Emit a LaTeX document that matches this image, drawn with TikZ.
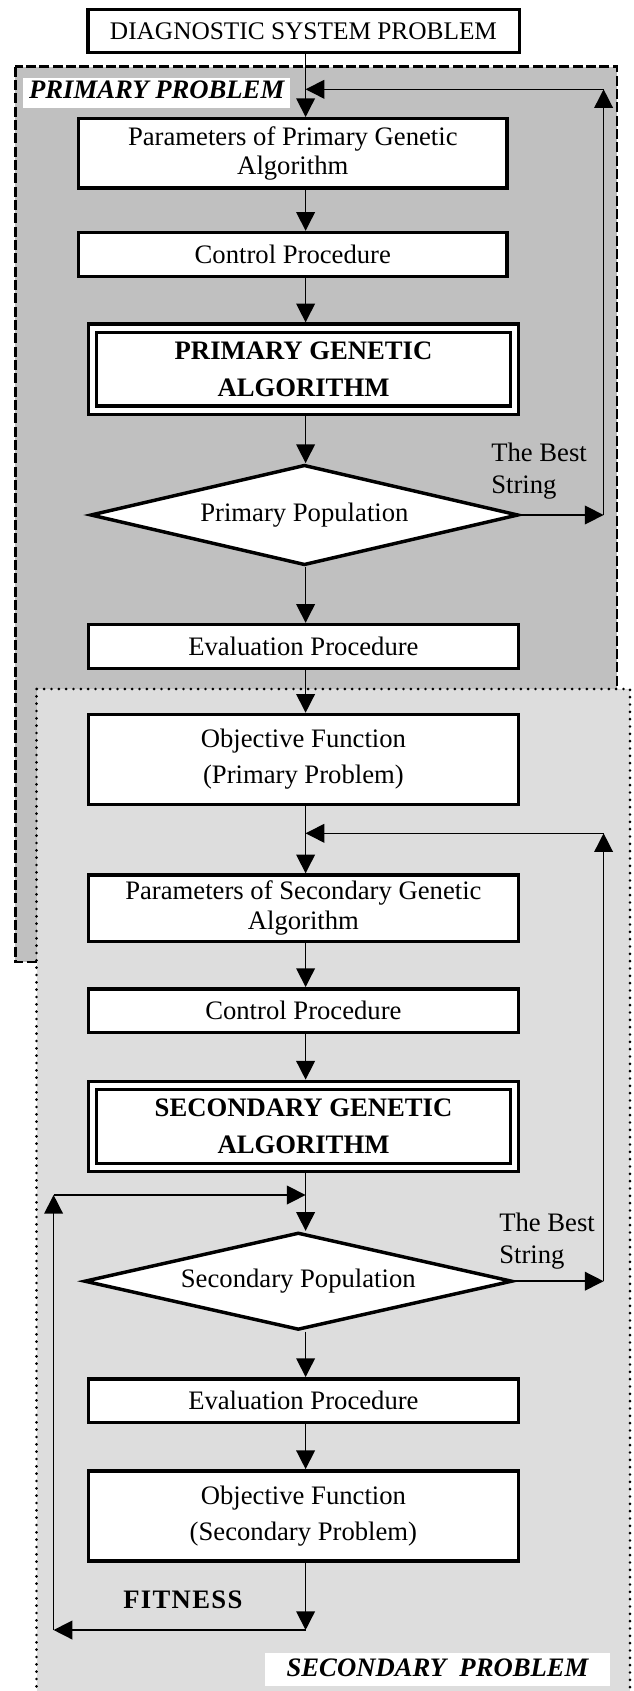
\documentclass[tikz,border=0pt]{standalone}
\usepackage{fontspec}
\setmainfont{Liberation Serif}
\newfontfamily\fitfont[LetterSpace=5]{Liberation Serif}
\usetikzlibrary{shapes.geometric,arrows.meta}
\definecolor{darkzone}{RGB}{192,192,192}
\definecolor{lightzone}{RGB}{221,221,221}

\tikzset{
 procbox/.style={draw, line width=2.6pt, fill=white, inner sep=0pt, align=center, font=\fontsize{20}{#1}\selectfont},
 procbox/.default=24,
 gabox/.style={draw, double=white, double distance=3.6pt, line width=2.6pt, fill=white, inner sep=0pt, outer sep=4.4pt, align=center, minimum width=316.5pt, minimum height=61.5pt, font=\fontsize{20}{27.5}\selectfont\bfseries},
 popshape/.style={diamond, aspect=4, draw, line width=2.6pt, fill=white, inner sep=0pt, minimum width=321pt, font=\fontsize{20}{24}\selectfont},
 arr/.style={line width=1.1pt, -{Triangle[length=14pt,width=14pt]}},
 zonelabel/.style={fill=white, inner sep=0pt, anchor=base, font=\fontsize{20}{24}\selectfont\bfseries\itshape},
 bestnote/.style={inner sep=0pt, align=left, anchor=north west, font=\fontsize{20}{24}\selectfont},
 primaryzone/.style={draw, fill=darkzone, line width=2pt, dash pattern=on 7.5pt off 2.5pt},
 secondaryzone/.style={draw, fill=lightzone, line width=2.2pt, line cap=round, dash pattern=on 0pt off 5.5pt}
}

\begin{document}
\begin{tikzpicture}[x=0.75pt,y=0.75pt,yscale=-1,xscale=1]
\useasboundingbox (0,0) rectangle (634,1691);
\clip (0,0) rectangle (634,1691);

% zones
\draw [primaryzone] (15.3,66.7) rectangle (617,962);
\draw [secondaryzone] (36.5,689) rectangle (630,1720);
\draw (156.7,98.3) node [zonelabel, minimum width=200pt, text height=15pt, text depth=7.5pt] (zoneA) {PRIMARY PROBLEM};
\draw (437.5,1676.7) node [zonelabel, minimum width=258.75pt, text height=17.8pt, text depth=7pt] (zoneB) {SECONDARY\ \ PROBLEM};

% boxes
\draw (303.5,31) node [procbox, minimum width=323.6pt, minimum height=31.9pt, font=\fontsize{19}{24}\selectfont] (diag) {DIAGNOSTIC SYSTEM PROBLEM};
\draw (292.8,153.5) node [procbox=21.5, minimum width=321.4pt, minimum height=52.1pt] (par1) {Parameters of Primary Genetic\\Algorithm};
\draw (292.8,254.4) node [procbox, minimum width=321.4pt, minimum height=32.8pt] (ctrl1) {Control Procedure};
\draw (303.5,369.2) node [gabox] (ga1) {PRIMARY GENETIC\\ALGORITHM};
\draw (304.4,515) node [popshape, minimum height=75.3pt] (pop1) {Primary Population};
\draw (303.4,646.4) node [procbox, minimum width=322.3pt, minimum height=32.8pt] (eval1) {Evaluation Procedure};
\draw (303.4,759.4) node [procbox=27, minimum width=322.3pt, minimum height=67.4pt] (obj1) {Objective Function\\(Primary Problem)};
\draw (303.4,908.3) node [procbox=22.5, minimum width=322.3pt, minimum height=49.9pt] (par2) {Parameters of Secondary Genetic\\Algorithm};
\draw (303.4,1010.5) node [procbox, minimum width=322.3pt, minimum height=32.6pt] (ctrl2) {Control Procedure};
\draw (303.5,1126.5) node [gabox] (ga2) {SECONDARY GENETIC\\ALGORITHM};
\draw (298.3,1281.2) node [popshape, minimum height=73pt] (pop2) {Secondary Population};
\draw (303.4,1400.5) node [procbox, minimum width=322.3pt, minimum height=32.6pt] (eval2) {Evaluation Procedure};
\draw (303.4,1515.9) node [procbox=27, minimum width=322.3pt, minimum height=67.6pt] (obj2) {Objective Function\\(Secondary Problem)};

% labels
\draw (491,442.5) node [bestnote] (bestlblA) {The Best\\String};
\draw (499,1212.5) node [bestnote] (bestlblB) {The Best\\String};
\draw (123,1608) node [anchor=base west, inner sep=0pt, font=\fitfont\fontsize{20}{24}\selectfont\bfseries] (fitlbl) {FITNESS};

% points of the loops
\coordinate (stem) at (305.6,0);
\coordinate (bestA) at (603.6,515);
\coordinate (bestAtop) at (603.6,89.3);
\coordinate (bestB) at (603.6,1281.2);
\coordinate (bestBtop) at (603.6,833.3);
\coordinate (fitR) at (305.6,1630);
\coordinate (fitL) at (53.6,1630);
\coordinate (fitT) at (53.6,1195);

% main flow
\draw [arr] (diag.south -| stem) -- (par1.north -| stem);
\draw [arr] (par1.south -| stem) -- (ctrl1.north -| stem);
\draw [arr] (ctrl1.south -| stem) -- (ga1.north -| stem);
\draw [arr] (ga1.south -| stem) -- (pop1.north -| stem);
\draw [arr] (pop1.south -| stem) -- (eval1.north -| stem);
\draw [arr] (eval1.south -| stem) -- (obj1.north -| stem);
\draw [arr] (obj1.south -| stem) -- (par2.north -| stem);
\draw [arr] (par2.south -| stem) -- (ctrl2.north -| stem);
\draw [arr] (ctrl2.south -| stem) -- (ga2.north -| stem);
\draw [arr] (ga2.south -| stem) -- (pop2.north -| stem);
\draw [arr] (pop2.south -| stem) -- (eval2.north -| stem);
\draw [arr] (eval2.south -| stem) -- (obj2.north -| stem);

% best string loops
\draw [arr] (pop1.east) -- (bestA);
\draw [arr] (bestA) -- (bestAtop);
\draw [arr] (bestAtop) -- (bestAtop -| stem);
\draw [arr] (pop2.east) -- (bestB);
\draw [arr] (bestB) -- (bestBtop);
\draw [arr] (bestBtop) -- (bestBtop -| stem);

% fitness loop
\draw [arr] (obj2.south -| stem) -- (fitR);
\draw [arr] (fitR) -- (fitL);
\draw [arr] (fitL) -- (fitT);
\draw [arr] (fitT) -- (fitT -| stem);

\end{tikzpicture}
\end{document}
